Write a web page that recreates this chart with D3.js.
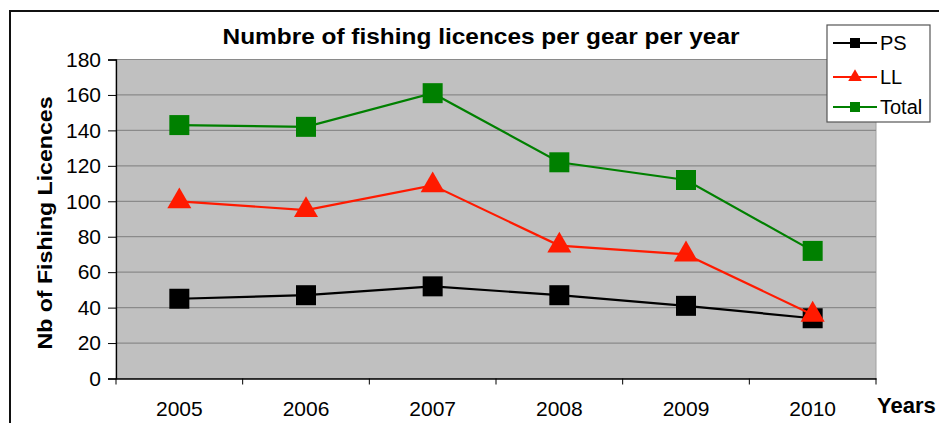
<!DOCTYPE html>
<html>
<head>
  <meta charset="UTF-8">
  <script src="https://d3js.org/d3.v7.min.js"></script>
  <style>
    body { margin: 0; background: #fff; }
    text { font-family: "Liberation Sans", Arial, sans-serif; }
  </style>
</head>
<body>
  <svg></svg>
<script>
  let width = 939,
    height = 423;

  let years = ["2005", "2006", "2007", "2008", "2009", "2010"];
  let ps = [45, 47, 52, 47, 41, 34];
  let ll = [100, 95, 109, 75, 70, 36];
  let total = [143, 142, 161, 122, 112, 72];
  let yTicks = [0, 20, 40, 60, 80, 100, 120, 140, 160, 180];

  let series = [
    { name: "PS", values: ps, color: "#000000", marker: "square" },
    { name: "LL", values: ll, color: "#ff1a00", marker: "triangle" },
    { name: "Total", values: total, color: "#008000", marker: "square" }
  ];

  let svg = d3.select("svg")
    .attr("width", width)
    .attr("height", height);

  // outer frame (only top and left visible)
  svg.append("path")
    .attr("d", "M10,423 V11 H939")
    .attr("fill", "none")
    .attr("stroke", "#111")
    .attr("stroke-width", 2);

  let x0 = 116, x1 = 876, yTop = 59.5, yBottom = 378.5;

  let x = d3.scaleBand().domain(years).range([x0, x1]);
  let y = d3.scaleLinear().domain([0, 180]).range([yBottom, yTop]);

  // plot background
  svg.append("rect")
    .attr("x", x0).attr("y", yTop)
    .attr("width", x1 - x0).attr("height", yBottom - yTop)
    .attr("fill", "#c0c0c0")
    .attr("stroke", "#a0a0a0");

  // grid
  svg.append("g")
    .selectAll("line")
    .data(yTicks.slice(1))
    .enter()
    .append("line")
    .attr("x1", x0).attr("x2", x1)
    .attr("y1", d => y(d)).attr("y2", d => y(d))
    .attr("stroke", "#8a8a8a")
    .attr("stroke-width", 1.2);

  // y axis
  let yAxis = svg.append("g")
    .attr("transform", "translate(" + x0 + ",0)")
    .call(d3.axisLeft(y).tickValues(yTicks).tickSize(8).tickPadding(7));
  yAxis.select(".domain").attr("stroke", "#000").attr("stroke-width", 1.3);
  yAxis.selectAll("text").attr("font-size", 21).attr("fill", "#000")
    .attr("font-family", "Liberation Sans, Arial, sans-serif");

  // x axis
  let xAxis = svg.append("g")
    .attr("transform", "translate(0," + yBottom + ")")
    .call(d3.axisBottom(x).tickSize(0).tickPadding(23));
  xAxis.select(".domain").attr("stroke", "#000").attr("stroke-width", 1.3);
  xAxis.selectAll("text").attr("font-size", 21).attr("fill", "#000")
    .attr("font-family", "Liberation Sans, Arial, sans-serif");
  xAxis.selectAll(".sep")
    .data(d3.range(years.length + 1))
    .enter()
    .append("line")
    .attr("x1", i => x0 + i * x.step())
    .attr("x2", i => x0 + i * x.step())
    .attr("y1", 0).attr("y2", 6)
    .attr("stroke", "#000");

  let line = d3.line()
    .x((d, i) => x(years[i]) + x.bandwidth() / 2)
    .y(d => y(d));

  let square = d3.symbol().type(d3.symbolSquare).size(400);
  let tri = d3.symbol().type(d3.symbolTriangle).size(250);

  series.forEach(s => {
    svg.append("path")
      .datum(s.values)
      .attr("d", line)
      .attr("fill", "none")
      .attr("stroke", s.color)
      .attr("stroke-width", 2.2);

    svg.append("g")
      .selectAll("path")
      .data(s.values)
      .enter()
      .append("path")
      .attr("d", s.marker == "square" ? square : tri)
      .attr("transform", (d, i) => "translate(" + (x(years[i]) + x.bandwidth() / 2) + "," + y(d) + ")")
      .attr("fill", s.color);
  });

  // title
  svg.append("text")
    .attr("x", 481).attr("y", 44)
    .attr("text-anchor", "middle")
    .attr("font-size", 22)
    .attr("font-weight", "bold")
    .attr("textLength", 517)
    .attr("lengthAdjust", "spacingAndGlyphs")
    .text("Numbre of fishing licences per gear per year");

  // y label
  svg.append("text")
    .attr("transform", "translate(52,223) rotate(-90)")
    .attr("text-anchor", "middle")
    .attr("font-size", 21)
    .attr("font-weight", "bold")
    .attr("textLength", 253)
    .attr("lengthAdjust", "spacingAndGlyphs")
    .text("Nb of Fishing Licences");

  // x label
  svg.append("text")
    .attr("x", 877).attr("y", 413)
    .attr("font-size", 22)
    .attr("font-weight", "bold")
    .text("Years");

  // legend
  let legend = svg.append("g").attr("transform", "translate(827,25)");
  legend.append("rect")
    .attr("width", 103).attr("height", 97)
    .attr("fill", "#fff")
    .attr("stroke", "#555")
    .attr("stroke-width", 1.2);

  let legendY = [18, 52, 82];
  let item = legend.selectAll(".item")
    .data(series)
    .enter()
    .append("g")
    .attr("transform", (d, i) => "translate(0," + legendY[i] + ")");
  item.append("line")
    .attr("x1", 6).attr("x2", 50)
    .attr("stroke", d => d.color)
    .attr("stroke-width", 2.2);
  item.append("path")
    .attr("d", d => d.marker == "square" ? d3.symbol().type(d3.symbolSquare).size(100)() : d3.symbol().type(d3.symbolTriangle).size(80)())
    .attr("transform", "translate(28,0)")
    .attr("fill", d => d.color);
  item.append("text")
    .attr("x", 53).attr("y", 7)
    .attr("font-size", 20)
    .text(d => d.name);
</script>
</body>
</html>
